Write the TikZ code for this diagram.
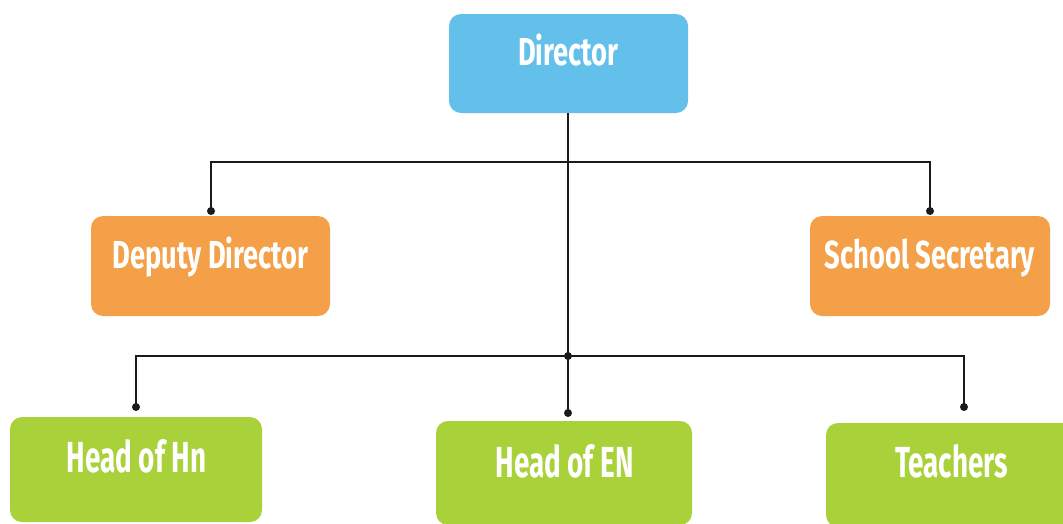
\documentclass[tikz,border=0pt]{standalone}
\usepackage{fontspec}
\newfontfamily\headfont[FakeStretch=0.7]{Fira Sans Bold}
\newfontfamily\lowfont[FakeStretch=0.64]{Fira Sans Bold}
\definecolor{cblue}{HTML}{63C0EB}
\definecolor{corange}{HTML}{F4A049}
\definecolor{cgreen}{HTML}{A9D13A}
\definecolor{cline}{HTML}{1A1A1A}
\tikzset{
  box/.style={draw=none, rounded corners=12pt, inner sep=0pt},
  lbl/.style={text=white, anchor=base, inner sep=0pt},
  toplbl/.style={lbl, font=\headfont\fontsize{39}{39}\selectfont},
  lowlbl/.style={lbl, font=\lowfont\fontsize{43.5}{43.5}\selectfont},
  link/.style={draw=cline, line width=2pt},
  dotend/.style={fill=cline, circle, inner sep=0pt, minimum size=8pt},
}
\begin{document}
\begin{tikzpicture}[x=1pt,y=-1pt]
\useasboundingbox (0,0) rectangle (1063,523);
\clip (0,0) rectangle (1063,523);
% boxes
\node[box, fill=cblue, minimum width=239pt, minimum height=99pt] (dir) at (568.5,63.5) {};
\node[box, fill=corange, minimum width=239pt, minimum height=100pt] (dep) at (210.5,266) {};
\node[box, fill=corange, minimum width=240pt, minimum height=100pt] (sec) at (930,266) {};
\node[box, fill=cgreen, minimum width=252pt, minimum height=105pt] (hn) at (136,469.5) {};
\node[box, fill=cgreen, minimum width=256pt, minimum height=104pt] (en) at (564,473) {};
\node[box, fill=cgreen, minimum width=252pt, minimum height=104pt] (tea) at (952,475) {};
% labels
\node[toplbl] (tdir) at (568.5,65) {Director};
\node[toplbl] (tdep) at (210.5,268) {Deputy Director};
\node[toplbl] (tsec) at (930,268) {School Secretary};
\node[lowlbl] (thn) at (136.5,472) {Head of Hn};
\node[lowlbl] (ten) at (564.5,477) {Head of EN};
\node[lowlbl] (ttea) at (951.5,477) {Teachers};
% connector points
\coordinate (top) at (568,162);
\coordinate (mid) at (568,356);
\coordinate (dDep) at (211,211);
\coordinate (dSec) at (930,211);
\coordinate (dHn) at (136,407);
\coordinate (dEn) at (568,413);
\coordinate (dTea) at (964,407);
% connectors
\draw[link] (dir.south -| top) -- (dEn);
\draw[link] (dDep) |- (top) -| (dSec);
\draw[link] (dHn) |- (mid) -| (dTea);
\foreach \p in {dDep,dSec,dHn,dEn,dTea,mid}
  \node[dotend] at (\p) {};
\end{tikzpicture}
\end{document}
